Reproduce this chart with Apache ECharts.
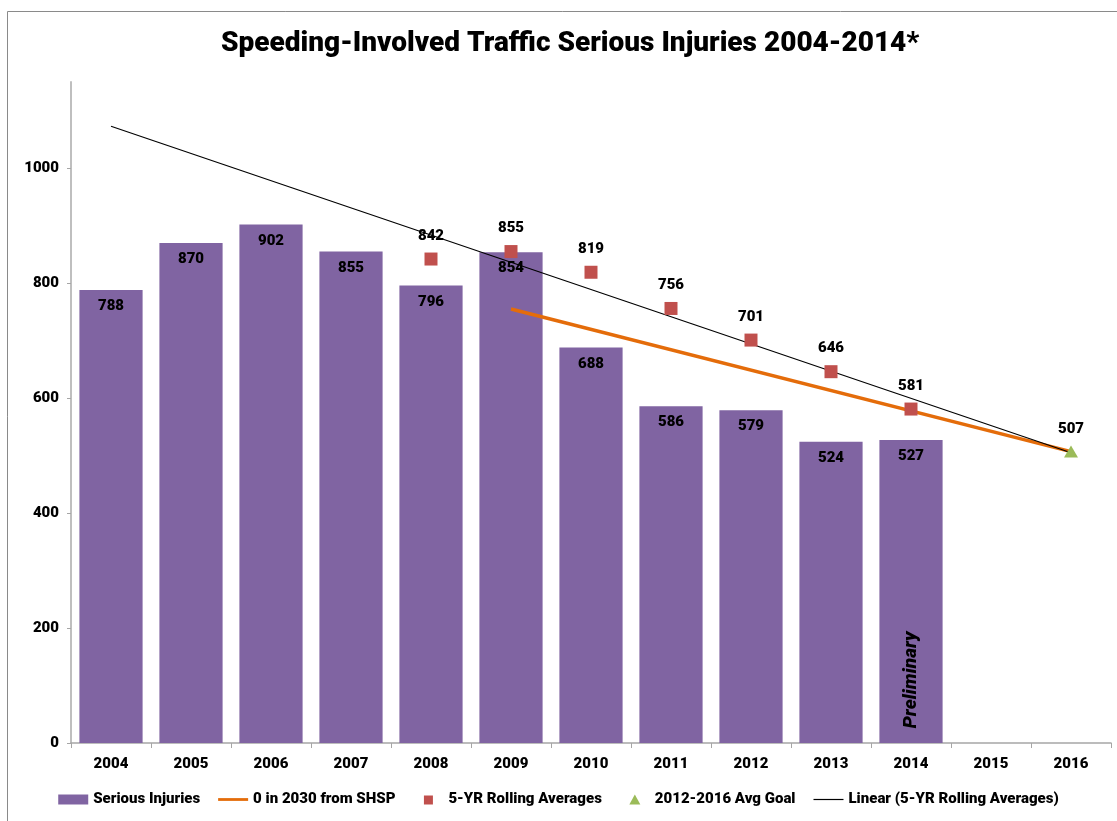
<!DOCTYPE html>
<html>
<head>
<meta charset="utf-8">
<script src="https://cdn.jsdelivr.net/npm/echarts@6/dist/echarts.min.js"></script>
<style>
  html, body { margin: 0; padding: 0; background: #fff; }
  #chart { width: 1117px; height: 821px; }
</style>
</head>
<body>
<div id="chart"></div>
<script>
const years = ['2004', '2005', '2006', '2007', '2008', '2009', '2010', '2011', '2012', '2013', '2014', '2015', '2016'];
const seriousInjuries = [788, 870, 902, 855, 796, 854, 688, 586, 579, 524, 527, null, null];
const shspLine = [null, null, null, null, null, 755, null, null, null, null, null, null, 507];
const rollingAvg = [null, null, null, null, 842, 855, 819, 756, 701, 646, 581, null, null];
const avgGoal = [null, null, null, null, null, null, null, null, null, null, null, null, 507];
const linearTrend = [1073, null, null, null, null, null, null, null, null, null, null, null, 505];
const prelimLabel = [null, null, null, null, null, null, null, null, null, null, 110, null, null];

const font = 'Roboto';
const weight = 900;
const chart = echarts.init(document.getElementById('chart'));

const labelStyle = {
  show: true,
  color: '#000',
  fontFamily: font,
  fontWeight: weight,
  fontSize: 15,
};

chart.setOption({
  animation: false,
  backgroundColor: '#fff',
  title: {
    text: 'Speeding-Involved Traffic Serious Injuries 2004-2014*',
    left: 216,
    top: 25,
    textStyle: { fontFamily: font, fontWeight: weight, fontSize: 28, color: '#000' },
  },
  graphic: [{
    type: 'rect',
    shape: { x: 7.5, y: 11.5, width: 1200, height: 900 },
    style: { fill: 'none', stroke: '#8a8a8a', lineWidth: 1 },
    silent: true,
  }],
  legend: {
    bottom: 9,
    left: 'center',
    itemGap: 18,
    itemWidth: 30,
    itemHeight: 10,
    textStyle: { fontFamily: font, fontWeight: weight, fontSize: 15, color: '#000' },
    data: [
      { name: 'Serious Injuries', icon: 'rect' },
      { name: '0 in 2030 from SHSP', icon: 'path://M0,0 M30,10 M0,3.6 L30,3.6 L30,6.4 L0,6.4 Z' },
      { name: '5-YR Rolling Averages', icon: 'path://M0,0 M30,10 M10.5,1 L19.5,1 L19.5,10 L10.5,10 Z' },
      { name: '2012-2016 Avg Goal', icon: 'path://M0,0 M30,10 M15,0 L20.5,10 L9.5,10 Z' },
      { name: 'Linear (5-YR Rolling Averages)', icon: 'path://M0,0 M30,10 M0,4.4 L30,4.4 L30,5.6 L0,5.6 Z' },
    ],
  },
  grid: { left: 71, right: 6, top: 82, bottom: 78 },
  xAxis: {
    type: 'category',
    data: years,
    axisLine: { lineStyle: { color: '#a6a6a6', width: 1.5 } },
    axisTick: { show: true, length: 5, lineStyle: { color: '#a6a6a6' } },
    axisLabel: { color: '#000', fontFamily: font, fontWeight: weight, fontSize: 15, margin: 14 },
  },
  yAxis: {
    type: 'value',
    min: 0,
    max: 1150,
    interval: 200,
    splitLine: { show: false },
    axisLine: { show: true, lineStyle: { color: '#bfbfbf', width: 2 } },
    axisTick: { show: true, length: 4, lineStyle: { color: '#a6a6a6' } },
    axisLabel: {
      color: '#000', fontFamily: font, fontWeight: weight, fontSize: 15, margin: 12,
      showMaxLabel: false,
      formatter: (v) => String(v),
    },
  },
  series: [
    {
      name: 'Serious Injuries',
      type: 'bar',
      data: seriousInjuries,
      barCategoryGap: '21%',
      itemStyle: { color: '#8064A2' },
      label: Object.assign({}, labelStyle, { position: 'insideTop', distance: 9 }),
      z: 1,
    },
    {
      name: '0 in 2030 from SHSP',
      type: 'line',
      data: shspLine,
      connectNulls: true,
      symbol: 'none',
      lineStyle: { color: '#E46C0A', width: 3.5 },
      itemStyle: { color: '#E46C0A' },
      z: 3,
    },
    {
      name: 'Linear (5-YR Rolling Averages)',
      type: 'line',
      data: linearTrend,
      connectNulls: true,
      symbol: 'none',
      lineStyle: { color: '#000', width: 1.2 },
      itemStyle: { color: '#000' },
      z: 4,
    },
    {
      name: '5-YR Rolling Averages',
      type: 'scatter',
      data: rollingAvg,
      symbol: 'rect',
      symbolSize: 13,
      itemStyle: { color: '#C0504D', opacity: 1 },
      label: Object.assign({}, labelStyle, { position: 'top', distance: 9 }),
      z: 5,
    },
    {
      name: '2012-2016 Avg Goal',
      type: 'scatter',
      data: avgGoal,
      symbol: 'triangle',
      symbolSize: [14, 12],
      itemStyle: { color: '#9BBB59', opacity: 1 },
      label: Object.assign({}, labelStyle, { position: 'top', distance: 9 }),
      z: 5,
    },
    {
      name: 'prelim',
      type: 'scatter',
      data: prelimLabel,
      symbolSize: 0,
      silent: true,
      itemStyle: { opacity: 1 },
      label: {
        show: true,
        position: 'inside',
        rotate: 90,
        formatter: 'Preliminary',
        color: '#000',
        fontFamily: font,
        fontWeight: weight,
        fontStyle: 'italic',
        fontSize: 19,
      },
      z: 6,
    },
  ],
});
</script>
</body>
</html>
